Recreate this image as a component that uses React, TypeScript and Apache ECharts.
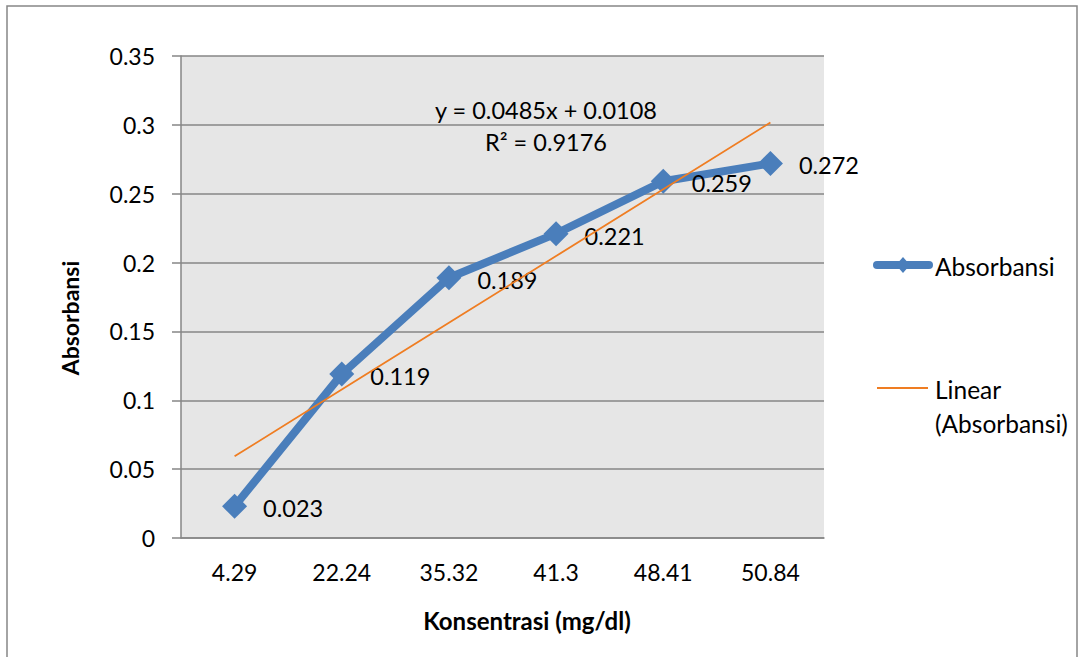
import React, { useEffect, useRef } from "react";
import * as echarts from "echarts";

const categories = ["4.29", "22.24", "35.32", "41.3", "48.41", "50.84"];
const absorbansi = [0.023, 0.119, 0.189, 0.221, 0.259, 0.272];
const yTicks = { min: 0, max: 0.35, interval: 0.05 };
const trendEquation = "y = 0.0485x + 0.0108";
const trendR2 = "R² = 0.9176";
const seriesName = "Absorbansi";
const trendName = ["Linear", "(Absorbansi)"];
const xTitle = "Konsentrasi (mg/dl)";
const yTitle = "Absorbansi";

// least-squares fit on category index (1..n), like Excel's trendline
function linearFit(vals: number[]) {
  const n = vals.length;
  const xs = vals.map((_, i) => i + 1);
  const mx = xs.reduce((a, b) => a + b, 0) / n;
  const my = vals.reduce((a, b) => a + b, 0) / n;
  let sxy = 0, sxx = 0;
  for (let i = 0; i < n; i++) {
    sxy += (xs[i] - mx) * (vals[i] - my);
    sxx += (xs[i] - mx) * (xs[i] - mx);
  }
  const slope = sxy / sxx;
  const intercept = my - slope * mx;
  return xs.map((x) => slope * x + intercept);
}

const FONT = "Lato";
const BLUE = "#4a7ebb";
const ORANGE = "#ef7d22";
const GRAY = "#868686";

export default function App() {
  const ref = useRef<HTMLDivElement>(null);
  useEffect(() => {
    if (!ref.current) return;
    const chart = echarts.init(ref.current, undefined, { renderer: "svg" });
    const trend = linearFit(absorbansi);
    chart.setOption({
      animation: false,
      backgroundColor: "#ffffff",
      textStyle: { fontFamily: FONT },
      grid: {
        left: 181,
        top: 56,
        right: 262,
        bottom: 119,
        show: true,
        backgroundColor: "#e6e6e6",
        borderWidth: 0,
      },
      xAxis: {
        type: "category",
        data: categories,
        boundaryGap: true,
        axisLine: { show: true, lineStyle: { color: GRAY, width: 1.5 } },
        axisTick: { show: false },
        axisLabel: { color: "#000", fontFamily: FONT, fontSize: 23, margin: 22 },
        splitLine: { show: false },
      },
      yAxis: {
        type: "value",
        min: yTicks.min,
        max: yTicks.max,
        interval: yTicks.interval,
        axisLine: { show: true, lineStyle: { color: GRAY, width: 1.5 } },
        axisTick: { show: true, length: 9, lineStyle: { color: GRAY, width: 1.5 } },
        axisLabel: { color: "#000", fontFamily: FONT, fontSize: 23, margin: 26 },
        splitLine: { show: true, lineStyle: { color: GRAY, width: 1.5 } },
      },
      series: [
        {
          name: seriesName,
          type: "line",
          data: absorbansi,
          symbol: "diamond",
          symbolSize: 25,
          lineStyle: { color: BLUE, width: 8 },
          itemStyle: { color: BLUE },
          z: 2,
          label: {
            show: true,
            position: "right",
            distance: 16,
            color: "#000",
            fontFamily: FONT,
            fontSize: 23.5,
            offset: [0, 2],
          },
        },
        {
          name: "Linear (Absorbansi)",
          type: "line",
          data: trend,
          symbol: "none",
          lineStyle: { color: ORANGE, width: 1.8 },
          silent: true,
          z: 3,
        },
      ],
      graphic: [
        {
          type: "rect",
          shape: { x: 7, y: 6, width: 1070, height: 720 },
          style: { fill: "none", stroke: GRAY, lineWidth: 1.5 },
          silent: true,
        },
        {
          type: "text",
          x: 546,
          y: 110,
          style: { text: trendEquation, font: `23.5px ${FONT}`, fill: "#000", align: "center", verticalAlign: "middle" },
        },
        {
          type: "text",
          x: 546,
          y: 142,
          style: { text: trendR2, font: `23.5px ${FONT}`, fill: "#000", align: "center", verticalAlign: "middle" },
        },
        {
          type: "text",
          x: 527,
          y: 620,
          style: { text: xTitle, font: `bold 24px ${FONT}`, fill: "#000", align: "center", verticalAlign: "middle" },
        },
        {
          type: "text",
          x: 70,
          y: 318,
          rotation: Math.PI / 2,
          style: { text: yTitle, font: `bold 23px ${FONT}`, fill: "#000", align: "center", verticalAlign: "middle" },
        },
        {
          type: "line",
          shape: { x1: 877, y1: 265, x2: 929, y2: 265 },
          style: { stroke: BLUE, lineWidth: 8, lineCap: "round" },
        },
        {
          type: "polygon",
          shape: { points: [[903, 257], [910, 265], [903, 273], [896, 265]] },
          style: { fill: BLUE },
        },
        {
          type: "text",
          x: 935,
          y: 266,
          style: { text: seriesName, font: `24.5px ${FONT}`, fill: "#000", verticalAlign: "middle" },
        },
        {
          type: "line",
          shape: { x1: 877, y1: 388, x2: 928, y2: 388 },
          style: { stroke: ORANGE, lineWidth: 1.8 },
        },
        {
          type: "text",
          x: 935,
          y: 389,
          style: { text: trendName[0], font: `24.5px ${FONT}`, fill: "#000", verticalAlign: "middle" },
        },
        {
          type: "text",
          x: 935,
          y: 423,
          style: { text: trendName[1], font: `24.5px ${FONT}`, fill: "#000", verticalAlign: "middle" },
        },
      ],
    });
    return () => chart.dispose();
  }, []);
  return (
    <div
      ref={ref}
      style={{ position: "fixed", left: 0, top: 0, width: 1086, height: 657 }}
    />
  );
}
